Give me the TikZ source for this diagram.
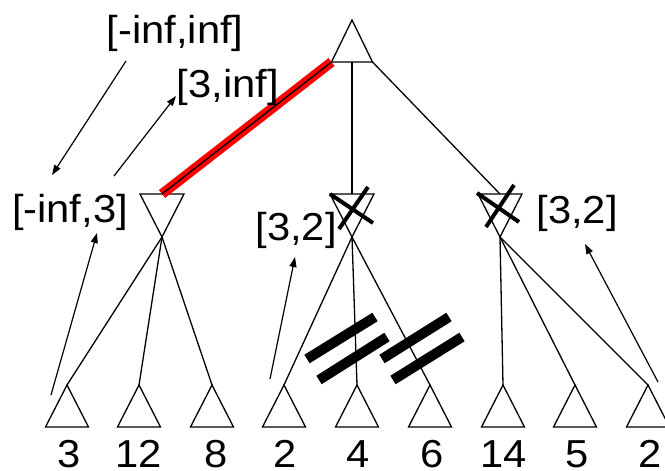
\documentclass[tikz,border=0pt]{standalone}
\usepackage{fontspec}
\setmainfont{Liberation Sans}[FakeStretch=1.07]
\usetikzlibrary{arrows.meta}
\begin{document}
\begin{tikzpicture}[x=1pt,y=-1pt,
  edge/.style={line width=1.3pt},
  tri/.style={line width=1.3pt, line join=miter},
  lbl/.style={anchor=base, inner sep=0pt, font=\fontsize{39}{44}\selectfont},
  note/.style={line width=1.2pt, -{Triangle[length=10pt,width=7pt]}},
  cross/.style={line width=4pt},
  prune/.style={line width=10pt},
  redline/.style={line width=10pt, red}]
\useasboundingbox (0,0) rectangle (665,471);
% root (max) node
\coordinate (R) at (352,20);
\draw[tri] (R) -- (331.5,62) coordinate (Rl) -- (372.5,62) coordinate (Rr) -- cycle;
\coordinate (Rm) at (352,62);
% min nodes
\foreach \n/\x in {A/162, B/352, C/500} {
  \coordinate (\n) at (\x,194);
  \coordinate (\n b) at (\x,237);
  \draw[tri] (\x-22,194) -- (\x+22,194) -- (\n b) -- cycle;
}
% leaves
\foreach \i/\x/\lx/\v in {1/67/69/3, 2/139/139/12, 3/212/216/8, 4/284/285/2, 5/357/358/4, 6/430/432/6, 7/503/504/14, 8/575/577/5, 9/648/650/2} {
  \coordinate (L\i) at (\x,385);
  \draw[tri] (L\i) -- (\x-21.5,427) -- (\x+21.5,427) -- cycle;
  \node[lbl] (v\i) at (\lx,467) {\v};
}
% red highlighted edge
\draw[redline] (Rl) -- (A);
% tree edges
\draw[edge] (Rl) -- (A);
\draw[edge] (Rm) -- (B);
\draw[edge] (Rr) -- (C);
\foreach \p/\a/\b/\c in {A/1/2/3, B/4/5/6, C/7/8/9} {
  \draw[edge] (\p b) -- (L\a);
  \draw[edge] (\p b) -- (L\b);
  \draw[edge] (\p b) -- (L\c);
}
% crosses on pruned min nodes
\draw[cross] (330,194) -- (373,223);
\draw[cross] (368,187) -- (339,229);
\draw[cross] (477,193) -- (519,222);
\draw[cross] (514,185) -- (486,227);
% pruning bars
\draw[prune] (307,359) -- (375,317);
\draw[prune] (319,380) -- (387,337);
\draw[prune] (382,359) -- (449,317);
\draw[prune] (393,380) -- (462,337);
% interval labels
\node[lbl] (t1) at (175,43) {[-inf,inf]};
\node[lbl] (t2) at (228,97) {[3,inf]};
\node[lbl] (t3) at (70,222) {[-inf,3]};
\node[lbl] (t4) at (296,240) {[3,2]};
\node[lbl] (t5) at (577,223) {[3,2]};
% annotation arrows
\coordinate (a1s) at (126,61);  \coordinate (a1e) at (52,175);
\coordinate (a2s) at (114,176); \coordinate (a2e) at (176,96);
\coordinate (a3s) at (51,395);  \coordinate (a3e) at (97,233);
\coordinate (a4s) at (270,379); \coordinate (a4e) at (295,257);
\coordinate (a5s) at (658,382); \coordinate (a5e) at (585,244);
\draw[note] (a1s) -- (a1e);
\draw[note] (a2s) -- (a2e);
\draw[note] (a3s) -- (a3e);
\draw[note] (a4s) -- (a4e);
\draw[note] (a5s) -- (a5e);
\end{tikzpicture}
\end{document}
